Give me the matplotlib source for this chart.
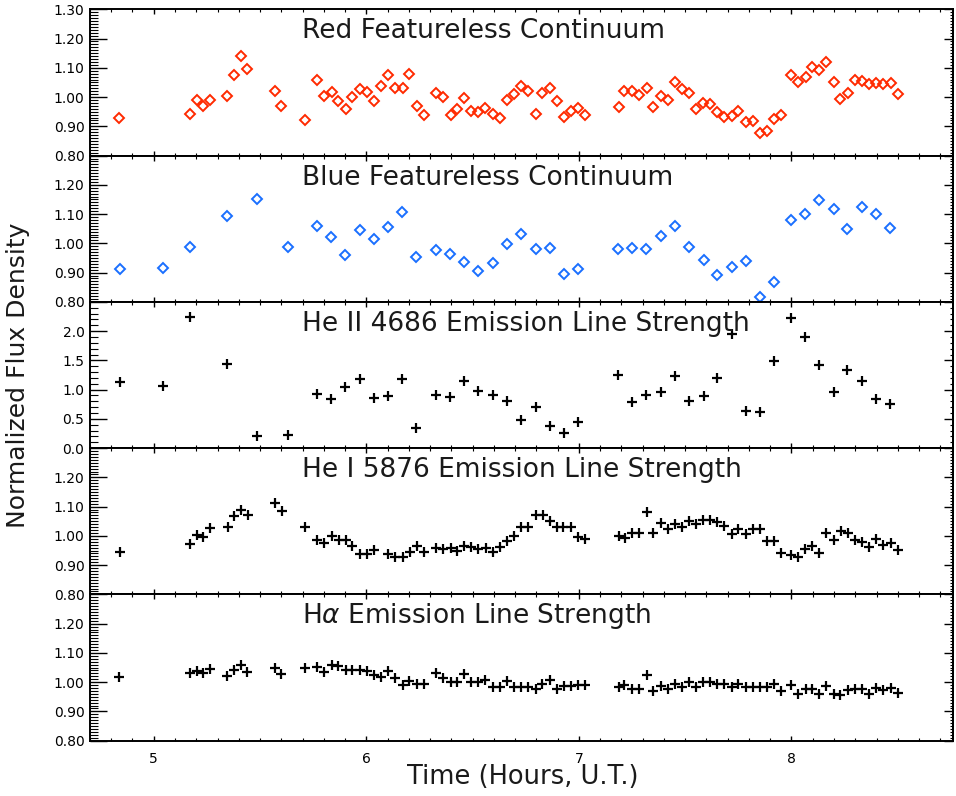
import matplotlib

matplotlib.use("Agg")
import matplotlib.pyplot as plt
from matplotlib.ticker import MultipleLocator, FixedLocator

# ---- data (time in hours U.T.) ----
t_red = [4.837, 5.172, 5.202, 5.233, 5.264, 5.347, 5.379, 5.410, 5.441, 5.569,
         5.601, 5.712, 5.770, 5.799, 5.837, 5.868, 5.904, 5.934, 5.970, 6.001,
         6.037, 6.068, 6.104, 6.136, 6.172, 6.201, 6.237, 6.270, 6.327, 6.361,
         6.397, 6.428, 6.461, 6.494, 6.527, 6.558, 6.595, 6.627, 6.664, 6.696,
         6.730, 6.762, 6.799, 6.827, 6.862, 6.895, 6.930, 6.962, 6.996, 7.027,
         7.187, 7.214, 7.252, 7.284, 7.320, 7.350, 7.384, 7.417, 7.453, 7.484,
         7.519, 7.550, 7.584, 7.616, 7.650, 7.684, 7.718, 7.750, 7.784, 7.817,
         7.852, 7.884, 7.919, 7.950, 8.000, 8.031, 8.066, 8.097, 8.131, 8.164,
         8.199, 8.230, 8.266, 8.298, 8.332, 8.366, 8.399, 8.432, 8.466, 8.501]
f_red = [0.927, 0.941, 0.991, 0.968, 0.991, 1.002, 1.077, 1.140, 1.097, 1.022,
         0.970, 0.921, 1.060, 1.003, 1.016, 0.986, 0.960, 0.999, 1.029, 1.017,
         0.988, 1.039, 1.077, 1.030, 1.031, 1.079, 0.971, 0.938, 1.013, 0.999,
         0.938, 0.958, 0.998, 0.954, 0.948, 0.963, 0.943, 0.930, 0.989, 1.009,
         1.038, 1.021, 0.943, 1.014, 1.032, 0.986, 0.933, 0.954, 0.963, 0.938,
         0.967, 1.021, 1.020, 1.006, 1.030, 0.966, 1.002, 0.989, 1.052, 1.029,
         1.014, 0.959, 0.979, 0.975, 0.948, 0.933, 0.936, 0.954, 0.915, 0.917,
         0.878, 0.883, 0.924, 0.940, 1.076, 1.052, 1.068, 1.102, 1.094, 1.121,
         1.053, 0.993, 1.014, 1.060, 1.055, 1.044, 1.048, 1.043, 1.048, 1.012]

t_blue = [4.839, 5.042, 5.169, 5.346, 5.488, 5.630, 5.770, 5.835, 5.902, 5.968,
          6.037, 6.103, 6.170, 6.236, 6.327, 6.395, 6.461, 6.527, 6.594, 6.664,
          6.727, 6.796, 6.862, 6.930, 6.996, 7.185, 7.251, 7.318, 7.385, 7.453,
          7.518, 7.587, 7.652, 7.719, 7.784, 7.852, 7.918, 7.997, 8.064, 8.130,
          8.199, 8.263, 8.332, 8.397, 8.465]
f_blue = [0.913, 0.915, 0.986, 1.093, 1.151, 0.989, 1.058, 1.023, 0.959, 1.047,
          1.015, 1.056, 1.108, 0.955, 0.976, 0.962, 0.936, 0.904, 0.934, 0.998,
          1.031, 0.982, 0.985, 0.895, 0.913, 0.979, 0.984, 0.982, 1.025, 1.060,
          0.989, 0.942, 0.893, 0.919, 0.939, 0.817, 0.867, 1.080, 1.100, 1.148,
          1.119, 1.049, 1.125, 1.100, 1.053]

# He II 4686 measured on the blue spectra (same times)
f_heii = [1.124, 1.067, 2.243, 1.446, 0.200, 0.217, 0.923, 0.843, 1.043, 1.187,
          0.861, 0.895, 1.181, 0.349, 0.905, 0.866, 1.153, 0.981, 0.900, 0.802,
          0.475, 0.699, 0.384, 0.263, 0.447, 1.244, 0.780, 0.905, 0.964, 1.232,
          0.814, 0.883, 1.193, 1.950, 0.637, 0.613, 1.497, 2.225, 1.904, 1.417,
          0.952, 1.342, 1.153, 0.836, 0.750]

t_hei = [4.839, 5.172, 5.202, 5.233, 5.266, 5.349, 5.379, 5.410, 5.443, 5.569,
         5.602, 5.712, 5.770, 5.801, 5.837, 5.870, 5.904, 5.935, 5.968, 6.001,
         6.038, 6.103, 6.136, 6.172, 6.205, 6.237, 6.270, 6.328, 6.361, 6.397,
         6.427, 6.461, 6.494, 6.527, 6.561, 6.595, 6.627, 6.664, 6.696, 6.730,
         6.762, 6.799, 6.830, 6.862, 6.895, 6.927, 6.962, 6.996, 7.027,
         7.187, 7.218, 7.252, 7.284, 7.320, 7.350, 7.384, 7.417, 7.453, 7.484,
         7.519, 7.550, 7.584, 7.616, 7.650, 7.684, 7.718, 7.750, 7.784, 7.817,
         7.852, 7.884, 7.919, 7.953, 7.997, 8.031, 8.064, 8.097, 8.131, 8.164,
         8.199, 8.233, 8.266, 8.298, 8.332, 8.366, 8.397, 8.432, 8.466, 8.501]
f_hei = [0.946, 0.974, 1.003, 0.995, 1.026, 1.032, 1.067, 1.090, 1.071, 1.114,
         1.086, 1.032, 0.986, 0.977, 0.999, 0.987, 0.985, 0.967, 0.938, 0.938,
         0.953, 0.938, 0.928, 0.928, 0.946, 0.965, 0.946, 0.957, 0.954, 0.957,
         0.950, 0.967, 0.962, 0.954, 0.957, 0.944, 0.961, 0.984, 0.999, 1.031,
         1.031, 1.070, 1.070, 1.051, 1.031, 1.031, 1.031, 0.995, 0.990,
         0.998, 0.993, 1.010, 1.010, 1.083, 1.009, 1.044, 1.025, 1.039, 1.030,
         1.050, 1.040, 1.054, 1.053, 1.046, 1.033, 1.008, 1.024, 1.005, 1.023,
         1.023, 0.981, 0.981, 0.941, 0.935, 0.929, 0.954, 0.966, 0.942, 1.009,
         0.987, 1.016, 1.009, 0.985, 0.979, 0.961, 0.990, 0.970, 0.975, 0.952]

# H-alpha measured on the red spectra (same times as t_red)
f_ha = [1.017, 1.031, 1.037, 1.033, 1.046, 1.021, 1.041, 1.057, 1.034, 1.050,
        1.027, 1.047, 1.052, 1.034, 1.059, 1.056, 1.043, 1.043, 1.043, 1.037,
        1.023, 1.019, 1.039, 1.014, 0.991, 1.005, 0.993, 0.993, 1.031, 1.013,
        0.999, 0.999, 1.027, 0.999, 0.999, 1.007, 0.984, 0.984, 1.003, 0.982,
        0.982, 0.984, 0.978, 0.993, 1.007, 0.975, 0.987, 0.987, 0.990, 0.990,
        0.984, 0.990, 0.976, 0.976, 1.026, 0.970, 0.987, 0.976, 0.993, 0.982,
        0.999, 0.982, 1.001, 0.999, 0.995, 0.993, 0.984, 0.995, 0.982, 0.982,
        0.982, 0.982, 0.995, 0.970, 0.990, 0.961, 0.978, 0.978, 0.959, 0.987,
        0.959, 0.955, 0.973, 0.976, 0.976, 0.959, 0.979, 0.973, 0.979, 0.963]

titles = ["Red Featureless Continuum",
          "Blue Featureless Continuum",
          "He II 4686 Emission Line Strength",
          "He I 5876 Emission Line Strength",
          r"H$\alpha$ Emission Line Strength"]
xticks = [5, 6, 7, 8]
cont_ticks = [0.80, 0.90, 1.00, 1.10, 1.20, 1.30]
heii_ticks = [0.0, 0.5, 1.0, 1.5, 2.0, 2.5]

plt.rcParams["font.family"] = "DejaVu Sans"
plt.rcParams["mathtext.fontset"] = "dejavusans"

fig, axes = plt.subplots(5, 1, sharex=True, figsize=(9.56, 7.96), dpi=100)
fig.subplots_adjust(left=0.0941, right=0.9969, top=0.9883, bottom=0.0695, hspace=0)

series = [
    (t_red, f_red, "D", "#ff2a00"),
    (t_blue, f_blue, "D", "#1a6fff"),
    (t_blue, f_heii, "+", "black"),
    (t_hei, f_hei, "+", "black"),
    (t_red, f_ha, "+", "black"),
]

for i, (ax, (t, f, mk, col)) in enumerate(zip(axes, series)):
    if mk == "D":
        ax.plot(t, f, ls="none", marker="D", ms=5, mfc="none", mec=col, mew=1.4,
                clip_on=False)
    else:
        ax.plot(t, f, ls="none", marker="+", ms=7, color=col, mew=1.6, clip_on=False)

    heii = i == 2
    ticks = heii_ticks if heii else cont_ticks
    ax.set_ylim(ticks[0], ticks[-1])
    ax.yaxis.set_major_locator(FixedLocator(ticks))
    ax.yaxis.set_minor_locator(MultipleLocator(0.1 if heii else 0.01))
    fmt = "{:.1f}" if heii else "{:.2f}"
    labels = [fmt.format(v) for v in ticks]
    if i > 0:
        labels[-1] = ""
    ax.set_yticklabels(labels)

    ax.set_xlim(4.70, 8.76)
    ax.xaxis.set_major_locator(FixedLocator(xticks))
    ax.xaxis.set_minor_locator(MultipleLocator(0.1))

    ax.tick_params(axis="y", which="major", direction="in", length=12, width=1.0,
                   labelsize=10, pad=4, right=False)
    ax.tick_params(axis="y", which="minor", direction="in", length=5.5, width=0.8,
                   right=False)
    ax.tick_params(axis="x", which="major", direction="in", length=3.5, width=1.0,
                   top=True, labelsize=10, pad=8)
    ax.tick_params(axis="x", which="minor", direction="in", length=2, width=0.8,
                   top=True)

    # shorter ticks on the right-hand side
    sec = ax.secondary_yaxis("right")
    sec.yaxis.set_major_locator(FixedLocator(ticks))
    sec.yaxis.set_minor_locator(MultipleLocator(0.1 if heii else 0.01))
    sec.tick_params(which="major", direction="in", length=6.5, width=1.0, labelright=False)
    sec.tick_params(which="minor", direction="in", length=2.2, width=0.8)
    sec.spines["right"].set_linewidth(1.4)

    for sp in ax.spines.values():
        sp.set_linewidth(1.4)

    ax.text(0.2457, 0.85, titles[i], transform=ax.transAxes, ha="left", va="center",
            fontsize=19, color="#1a1a1a")

fig.text(0.019, 0.529, "Normalized Flux Density", rotation=90, ha="center",
         va="center", fontsize=18, color="#1a1a1a")
fig.text(0.547, 0.024, "Time (Hours, U.T.)", ha="center", va="center",
         fontsize=18.5, color="#1a1a1a")

fig.savefig("out.png", dpi=100)
